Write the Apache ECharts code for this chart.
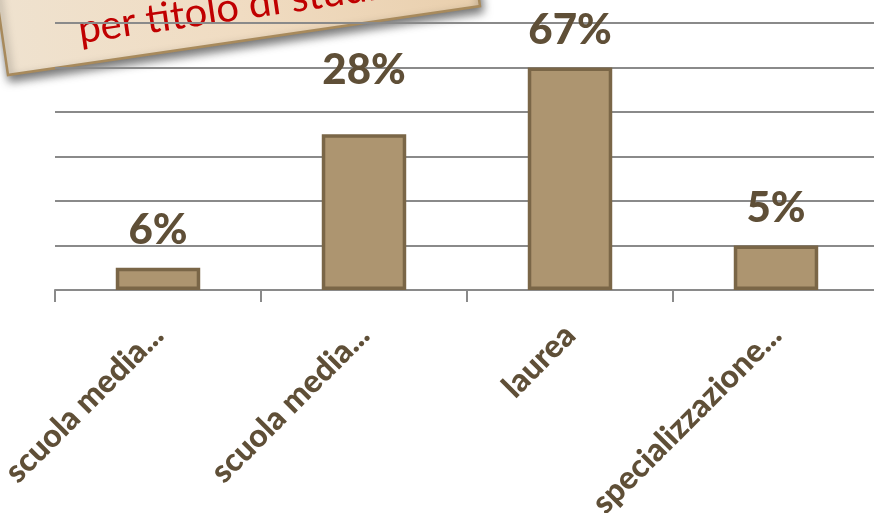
<!DOCTYPE html>
<html>
<head>
<meta charset="utf-8">
<title>per titolo di studio</title>
<script src="https://cdn.jsdelivr.net/npm/echarts@6/dist/echarts.min.js"></script>
<style>
  html, body { margin: 0; padding: 0; background: #ffffff; }
  #chart { width: 874px; height: 513px; }
</style>
</head>
<body>
<div id="chart"></div>
<script>
// Titolo di studio: categorie, altezza delle colonne e percentuali indicate sopra
const categories = ['scuola media...', 'scuola media...', 'laurea', 'specializzazione...'];
const barLevels = [0.5, 3.5, 5, 1];
const percentLabels = ['6%', '28%', '67%', '5%'];
const tagTitle = 'per titolo di studio';

const ink = '#5f4f37';
const font = 'Lato, "Open Sans", sans-serif';

const chart = echarts.init(document.getElementById('chart'), null, { renderer: 'canvas' });

const seriesData = barLevels.map((v, i) => ({
  value: v,
  label: { formatter: percentLabels[i], offset: i === 1 ? [0, -27] : [0, 0] }
}));

chart.setOption({
  animation: false,
  backgroundColor: '#ffffff',
  grid: { left: 55, right: -5, top: 23, bottom: 223, containLabel: false, outerBoundsMode: 'none' },
  xAxis: {
    type: 'category',
    data: categories,
    boundaryGap: true,
    axisLine: { show: true, lineStyle: { color: '#8a8a8a', width: 2 } },
    axisTick: { show: true, length: 12, alignWithLabel: false, lineStyle: { color: '#8a8a8a', width: 2 } },
    axisLabel: {
      rotate: 45,
      margin: 40,
      interval: 0,
      color: ink,
      fontFamily: font,
      fontWeight: 900,
      fontSize: 32
    }
  },
  yAxis: {
    type: 'value',
    min: 0,
    max: 6,
    interval: 1,
    axisLine: { show: false },
    axisTick: { show: false },
    axisLabel: { show: false },
    splitLine: { show: true, lineStyle: { color: '#8a8a8a', width: 2 } }
  },
  series: [{
    type: 'bar',
    data: seriesData,
    barWidth: '41%',
    itemStyle: { color: '#ad9570', borderColor: '#7a6647', borderWidth: 3.5 },
    label: {
      show: true,
      position: 'top',
      distance: 16,
      color: ink,
      fontFamily: font,
      fontWeight: 900,
      fontSize: 42
    }
  }],
  graphic: [{
    type: 'group',
    x: 8,
    y: 75,
    rotation: 0.145,
    z: 100,
    children: [{
      type: 'rect',
      shape: { x: 0, y: -160, width: 477, height: 160 },
      style: {
        fill: new echarts.graphic.LinearGradient(0, 0, 1, 0, [
          { offset: 0, color: '#efe2cf' },
          { offset: 0.5, color: '#f0dcc2' },
          { offset: 1, color: '#e9cfad' }
        ]),
        stroke: '#a88a5c',
        lineWidth: 2.5,
        shadowBlur: 10,
        shadowOffsetY: 5,
        shadowOffsetX: 2,
        shadowColor: 'rgba(0,0,0,0.55)'
      }
    }, {
      type: 'text',
      x: 76,
      y: -14,
      style: {
        text: tagTitle,
        fill: '#c00000',
        fontFamily: font,
        fontSize: 40,
        textVerticalAlign: 'bottom',
        textAlign: 'left'
      }
    }]
  }]
});
</script>
</body>
</html>
